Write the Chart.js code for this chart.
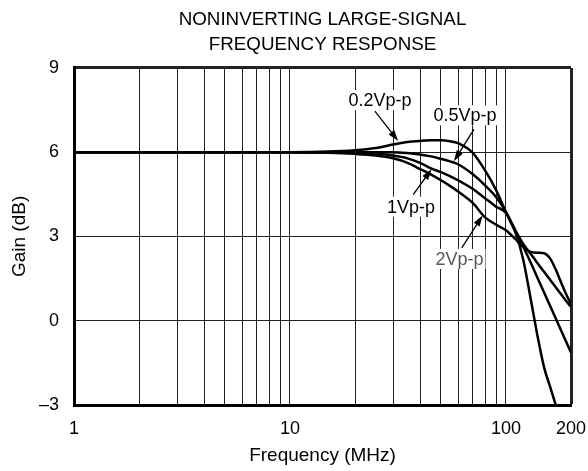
<!DOCTYPE html>
<html>
<head>
<meta charset="utf-8">
<script src="https://cdn.jsdelivr.net/npm/chart.js@4.4.0/dist/chart.umd.min.js"></script>
<style>
  html, body { margin: 0; padding: 0; background: #fff; }
</style>
</head>
<body>
<canvas id="chart" width="588" height="471"></canvas>
<script>
'use strict';

const freqMHz = [1, 5, 10, 15, 20, 25, 30, 35, 40, 45, 50, 55, 60, 70, 80, 90, 100, 110, 120, 130, 140, 150, 160, 170, 180, 190, 200];

// gain (dB) for each output swing
const gain02 = [6, 6, 6, 6.02, 6.07, 6.15, 6.27, 6.36, 6.4, 6.42, 6.42, 6.39, 6.32, 5.98, 5.35, 4.65, 3.86, 3.2, 2.2, 0.8, -0.55, -1.65, -2.35, -3.0, null, null, null];
const gain05 = [6, 6, 6, 6, 6, 6, 6, 5.97, 5.92, 5.85, 5.76, 5.67, 5.57, 5.22, 4.82, 4.4, 3.86, 3.2, 2.64, 2.08, 1.52, 1.01, 0.53, 0.08, -0.35, -0.75, -1.13];
const gain1 = [6, 6, 6, 5.99, 5.97, 5.94, 5.88, 5.78, 5.62, 5.42, 5.29, 5.15, 5.0, 4.7, 4.36, 4.06, 3.84, 3.25, 2.74, 2.38, 2.05, 1.74, 1.46, 1.19, 0.94, 0.7, 0.5];
const gain2 = [6, 6, 6, 5.98, 5.94, 5.88, 5.78, 5.62, 5.4, 5.2, 5.0, 4.8, 4.6, 4.2, 3.68, 3.42, 3.22, 2.92, 2.62, 2.45, 2.42, 2.4, 2.22, 1.82, 1.36, 0.94, 0.6];

const seriesNames = ['0.2Vp-p', '0.5Vp-p', '1Vp-p', '2Vp-p'];

// axis ticks
const xGridTicks = [1, 2, 3, 4, 5, 6, 7, 8, 9, 10, 20, 30, 40, 50, 60, 70, 80, 90, 100, 200];
const xTickLabels = [1, 10, 100, 200];
const yTicks = [-3, 0, 3, 6, 9];

// curve labels: text spot and arrow (freq, gain)
const notes = [
  { text: '0.2Vp-p', at: [26.1, 7.85], from: [24.7, 7.46], to: [31.7, 6.4], color: '#000' },
  { text: '0.5Vp-p', at: [64.6, 7.31], from: [71.1, 6.81], to: [57.4, 5.68], color: '#000' },
  { text: '1Vp-p', at: [36.3, 4.06], from: [37.2, 4.49], to: [45.3, 5.4], color: '#000' },
  { text: '2Vp-p', at: [60.9, 2.2], from: [62.4, 2.59], to: [78.0, 3.75], color: '#555' }
];

const FONT = '"Liberation Sans", Arial, Helvetica, sans-serif';
let canvasElem = document.getElementById('chart');

function toPoints(gains) {
  let pts = [];
  for (let i = 0; i < freqMHz.length; i++) {
    pts.push({ x: freqMHz[i], y: gains[i] });
  }
  return pts;
}

const notePlugin = {
  id: 'notes',
  afterDatasetsDraw(chart) {
    const { ctx, scales: { x, y } } = chart;
    ctx.save();
    ctx.font = '18px ' + FONT;
    ctx.textAlign = 'center';
    ctx.textBaseline = 'middle';
    notes.forEach(n => {
      const tx = x.getPixelForValue(n.at[0]);
      const ty = y.getPixelForValue(n.at[1]);
      const w = ctx.measureText(n.text).width;
      ctx.fillStyle = '#fff';
      ctx.fillRect(tx - w / 2 - 2, ty - 10, w + 4, 20);
      ctx.fillStyle = n.color;
      ctx.fillText(n.text, tx, ty + 1);

      const x0 = x.getPixelForValue(n.from[0]), y0 = y.getPixelForValue(n.from[1]);
      const x1 = x.getPixelForValue(n.to[0]), y1 = y.getPixelForValue(n.to[1]);
      const a = Math.atan2(y1 - y0, x1 - x0);
      const c = Math.cos(a), s = Math.sin(a);
      ctx.strokeStyle = '#000';
      ctx.fillStyle = '#000';
      ctx.lineWidth = 1.3;
      ctx.beginPath();
      ctx.moveTo(x0, y0);
      ctx.lineTo(x1 - 8 * c, y1 - 8 * s);
      ctx.stroke();
      ctx.beginPath();
      ctx.moveTo(x1, y1);
      ctx.lineTo(x1 - 11 * c + 3.5 * s, y1 - 11 * s - 3.5 * c);
      ctx.lineTo(x1 - 11 * c - 3.5 * s, y1 - 11 * s + 3.5 * c);
      ctx.closePath();
      ctx.fill();
    });
    ctx.restore();
  }
};

function renderChart() {
  let allGains = [gain02, gain05, gain1, gain2];
  let datasets = [];
  for (let i = 0; i < allGains.length; i++) {
    datasets.push({
      label: seriesNames[i],
      data: toPoints(allGains[i]),
      borderColor: '#000',
      borderWidth: 2.5,
      pointRadius: 0,
      fill: false,
      spanGaps: false,
      cubicInterpolationMode: 'monotone'
    });
  }

  let chartObj = {
    type: 'line',
    data: { datasets: datasets },
    plugins: [notePlugin],
    options: {
      responsive: false,
      animation: false,
      devicePixelRatio: 1,
      layout: { padding: { left: 0, right: 17, top: 0, bottom: 0 } },
      plugins: {
        legend: { display: false },
        tooltip: { enabled: false },
        title: {
          display: true,
          fullSize: false,
          text: ['NONINVERTING LARGE-SIGNAL', 'FREQUENCY RESPONSE'],
          color: '#000',
          font: { family: FONT, size: 18.8, weight: 'normal', lineHeight: 1.3 },
          padding: { top: 8, bottom: 11 }
        }
      },
      scales: {
        x: {
          type: 'logarithmic',
          min: 1,
          max: 200,
          afterBuildTicks: scale => { scale.ticks = xGridTicks.map(v => ({ value: v })); },
          afterFit: scale => {
            scale.height = 66;
            scale.paddingLeft = 0;
            scale.paddingRight = 0;
          },
          ticks: {
            autoSkip: false,
            maxRotation: 0,
            padding: 13,
            color: '#000',
            font: { family: FONT, size: 18 },
            callback: value => xTickLabels.includes(value) ? String(value) : ''
          },
          grid: {
            drawTicks: false,
            color: '#222',
            lineWidth: ctx => (ctx.tick && ctx.tick.value === 200) ? 3 : 1
          },
          border: { display: true, color: '#000', width: 3 },
          title: {
            display: true,
            text: 'Frequency (MHz)',
            color: '#000',
            font: { family: FONT, size: 19 },
            padding: { top: 0, bottom: 4 }
          }
        },
        y: {
          min: -3,
          max: 9,
          afterBuildTicks: scale => { scale.ticks = yTicks.map(v => ({ value: v })); },
          afterFit: scale => { scale.width = 74; },
          ticks: {
            padding: 15,
            color: '#000',
            font: { family: FONT, size: 18 },
            callback: value => value < 0 ? '\u2013' + Math.abs(value) : String(value)
          },
          grid: {
            drawTicks: false,
            color: '#222',
            lineWidth: ctx => (ctx.tick && ctx.tick.value === 9) ? 3 : 1
          },
          border: { display: true, color: '#000', width: 3 },
          title: {
            display: true,
            text: 'Gain (dB)',
            color: '#000',
            font: { family: FONT, size: 19 },
            padding: { top: 8, bottom: 0 }
          }
        }
      }
    }
  };
  new Chart(canvasElem, chartObj);
}

renderChart();
</script>
</body>
</html>
